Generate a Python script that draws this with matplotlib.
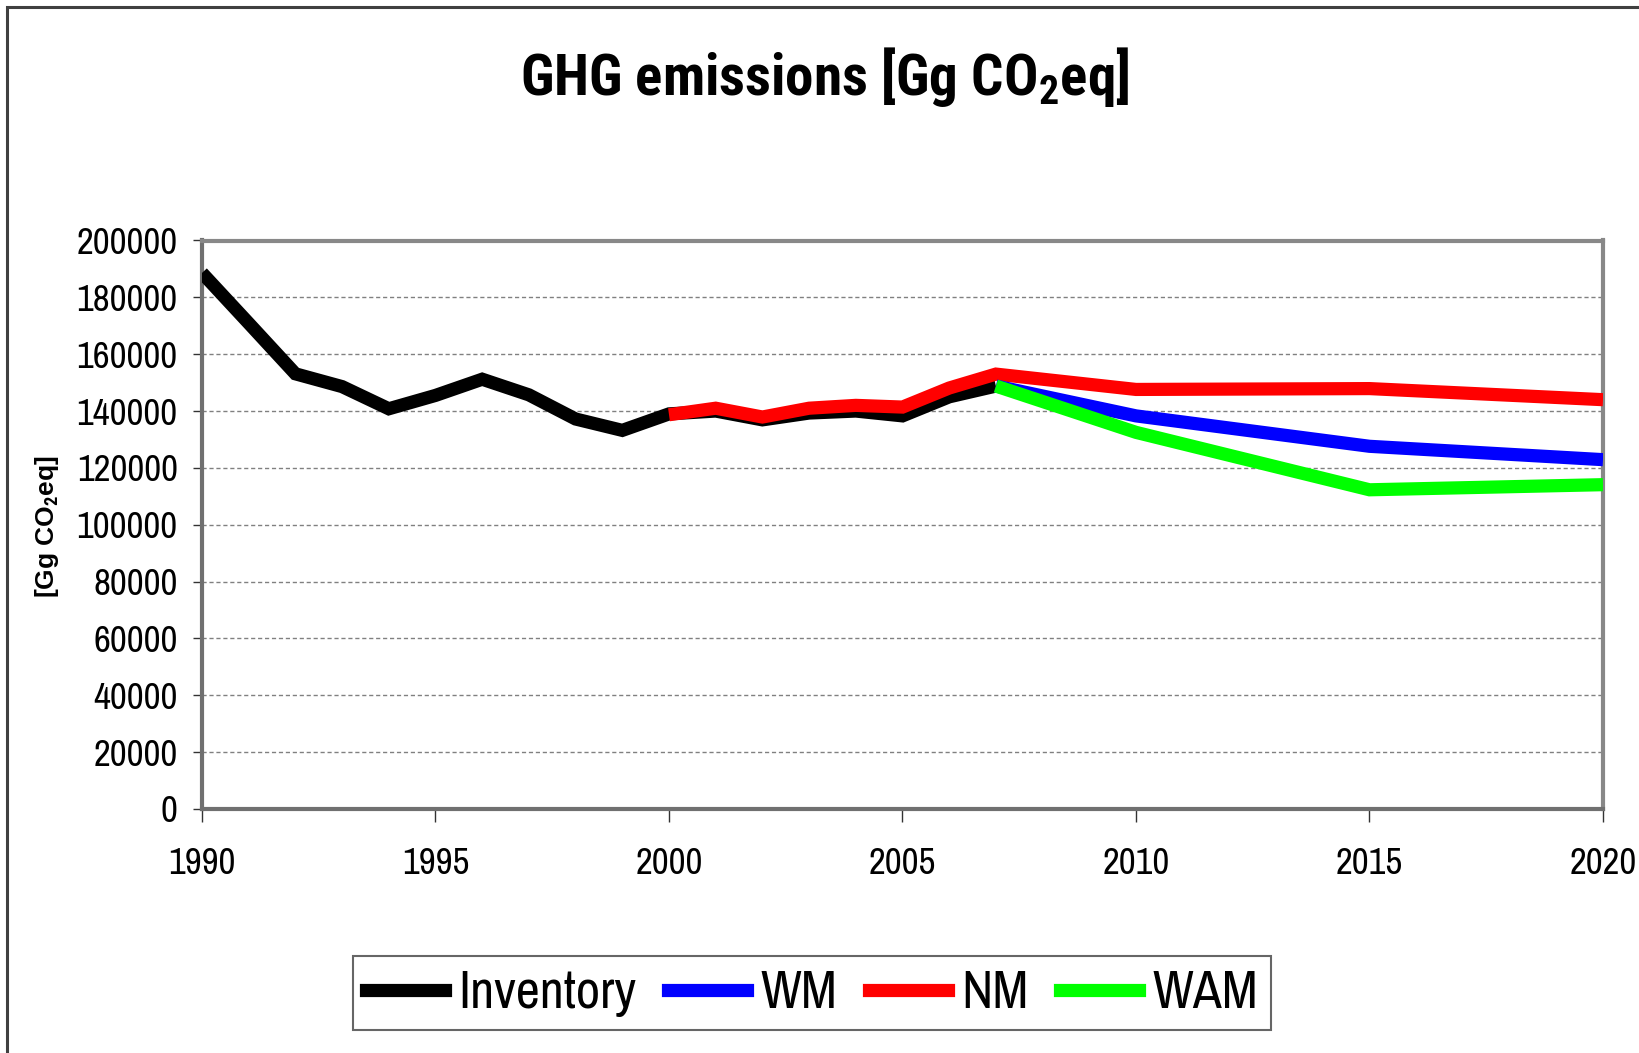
import matplotlib
matplotlib.use("Agg")
import matplotlib.pyplot as plt
from matplotlib.lines import Line2D
from matplotlib.patches import Rectangle

# ---- data ----
inv_years = [1990, 1991, 1992, 1993, 1994, 1995, 1996, 1997, 1998, 1999,
             2000, 2001, 2002, 2003, 2004, 2005, 2006, 2007]
inventory = [188600, 170900, 153100, 148600, 140800, 145500, 151200, 145700, 137200, 133200,
             139000, 140000, 136900, 139300, 140000, 138300, 145000, 148800]

nm_years = [2000, 2001, 2002, 2003, 2004, 2005, 2006, 2007, 2010, 2015, 2020]
nm = [138700, 141000, 137900, 141000, 142000, 141400, 148100, 153000, 147600, 147900, 144000]

proj_years = [2007, 2010, 2015, 2020]
wm = [148800, 138300, 127600, 122900]
wam = [148800, 132500, 112300, 114100]

x_ticks = [1990, 1995, 2000, 2005, 2010, 2015, 2020]
y_ticks = list(range(0, 200001, 20000))

# ---- style ----
NARROW = ['Archivo Narrow', 'Liberation Sans', 'DejaVu Sans']
BOLD_NARROW = ['Roboto Condensed', 'Liberation Sans', 'DejaVu Sans']
plt.rcParams['font.family'] = NARROW
plt.rcParams['mathtext.fontset'] = 'custom'
plt.rcParams['mathtext.rm'] = 'Roboto Condensed:bold'
plt.rcParams['mathtext.bf'] = 'Roboto Condensed:bold'

W, H = 1640, 1053
fig = plt.figure(figsize=(W / 100, H / 100), dpi=100)

# chart area border
fig.patches.append(Rectangle((7 / W, -0.1), 1.2, 1 - 7 / H + 0.1, transform=fig.transFigure,
                             fill=False, edgecolor='#404040', linewidth=2.2))

ax = fig.add_axes([202 / W, 1 - 809 / H, (1603 - 202) / W, (809 - 240.5) / H])

lw = 9.5
ax.plot(inv_years, inventory, color='black', lw=lw, solid_joinstyle='miter',
        solid_capstyle='butt', zorder=3)
ax.plot(nm_years, nm, color='#ff0000', lw=lw, solid_joinstyle='miter',
        solid_capstyle='butt', zorder=4)
ax.plot(proj_years, wm, color='#0000ff', lw=lw, solid_joinstyle='miter',
        solid_capstyle='butt', zorder=5)
ax.plot(proj_years, wam, color='#00ff00', lw=lw, solid_joinstyle='miter',
        solid_capstyle='butt', zorder=6)

ax.set_xlim(1990, 2020)
ax.set_ylim(0, 200000)
ax.set_xticks(x_ticks)
ax.set_yticks(y_ticks)
ax.set_xticklabels([str(v) for v in x_ticks])
ax.set_yticklabels([str(v) for v in y_ticks])
ax.grid(axis='y', color='#808080', linestyle=(0, (3, 2)), linewidth=1.0, zorder=1)
ax.set_axisbelow(True)

for s in ax.spines.values():
    s.set_color('#888888')
    s.set_linewidth(3)
ax.spines['left'].set_color('#707070')
ax.spines['bottom'].set_color('#707070')

ax.tick_params(axis='y', direction='out', length=6.5, width=1, color='#333333',
               pad=11, labelsize=26.5)
ax.tick_params(axis='x', direction='out', length=9, width=1, color='#333333',
               pad=18, labelsize=26.5)

ax.set_ylabel(r'[Gg CO$_\mathbf{2}$eq]', fontsize=19, fontweight='bold',
              family=['Liberation Sans', 'DejaVu Sans'])
ax.yaxis.set_label_coords(61 / W, 0.5, transform=fig.transFigure)

fig.text(825 / W, 1 - 77 / H, r'GHG emissions [Gg CO$_\mathbf{2}$eq]', ha='center', va='center',
         fontsize=41, fontweight='bold', family=BOLD_NARROW)

handles = [Line2D([], [], color='black', lw=lw),
           Line2D([], [], color='#0000ff', lw=lw),
           Line2D([], [], color='#ff0000', lw=lw),
           Line2D([], [], color='#00ff00', lw=lw)]
labels = ['Inventory', 'WM', 'NM', 'WAM']
leg = fig.legend(handles, labels, loc='center', bbox_to_anchor=(812 / W, 1 - 993 / H),
                 ncol=4, fontsize=38, frameon=True, fancybox=False, edgecolor='#404040',
                 handlelength=1.5, handletextpad=0.25, columnspacing=0.6,
                 borderpad=0.25, borderaxespad=0)
leg.get_frame().set_linewidth(1.5)

fig.savefig('out.png', dpi=100)
